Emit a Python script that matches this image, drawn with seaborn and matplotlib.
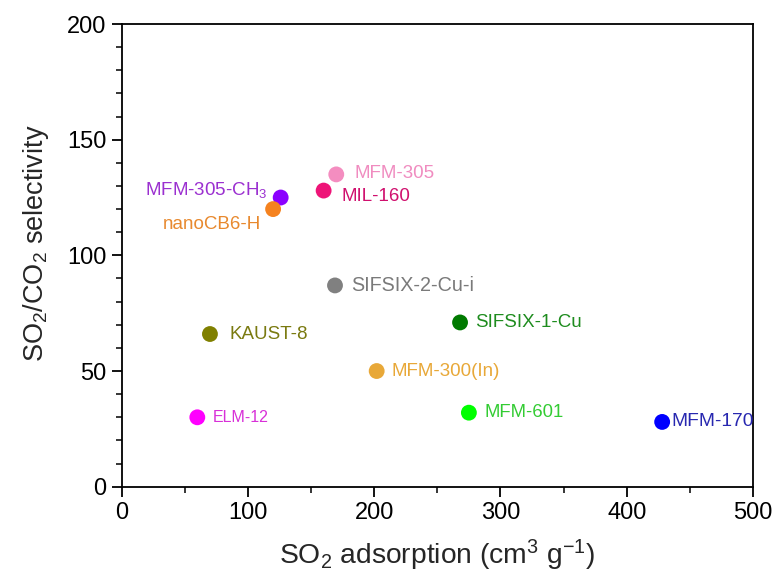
import matplotlib
matplotlib.use("Agg")
import matplotlib.pyplot as plt
import seaborn as sns
import pandas as pd
from matplotlib.ticker import MultipleLocator

names = ["MFM-305", "MIL-160", "MFM-305-CH$_3$", "nanoCB6-H", "SIFSIX-2-Cu-i",
         "SIFSIX-1-Cu", "KAUST-8", "MFM-300(In)", "ELM-12", "MFM-601", "MFM-170"]
so2_uptake = [170, 160, 126, 120, 169, 268, 70, 202, 60, 275, 428]
selectivity = [135, 128, 125, 120, 87, 71, 66, 50, 30, 32, 28]
dot_colors = ["#F48DC0", "#EE1478", "#8B00FF", "#F5821F", "#808080",
              "#007A00", "#808000", "#E8A838", "#FF00FF", "#00FF00", "#0000FF"]
label_colors = ["#F08CC0", "#D0106E", "#9B30D0", "#E8892E", "#7A7A7A",
                "#1E8C1E", "#7A7A10", "#E8A838", "#D830D8", "#33CC33", "#2828B0"]
label_sizes = [13.5, 13.5, 13.5, 13.5, 14.2, 13.5, 13.5, 13.5, 11.5, 13.3, 13.8]
# label offsets in pixels (dx, dy) and horizontal alignment
offsets = [(18, 1), (18, -6), (-13, 8), (-12, -15), (16, 0),
           (15, 0), (20, 0), (15, 0), (15, 0), (16, 0), (9, 0)]
aligns = ["left", "left", "right", "right", "left",
          "left", "left", "left", "left", "left", "left"]

df = pd.DataFrame({"name": names, "x": so2_uptake, "y": selectivity})

sns.set_theme(style="ticks")
plt.rcParams["font.family"] = ["Liberation Sans", "DejaVu Sans"]
plt.rcParams["mathtext.fontset"] = "custom"
plt.rcParams["mathtext.rm"] = "Liberation Sans"
plt.rcParams["mathtext.it"] = "Liberation Sans:italic"
plt.rcParams["mathtext.bf"] = "Liberation Sans:bold"

fig = plt.figure(figsize=(7.74, 5.73), dpi=100)
ax = fig.add_axes([0.157, 0.1506, 0.816, 0.8075])

sns.scatterplot(data=df, x="x", y="y", hue="name",
                palette=dict(zip(names, dot_colors)), s=130,
                edgecolor="none", legend=False, ax=ax, zorder=3)

for n, xv, yv, c, off, ha, fs in zip(names, so2_uptake, selectivity, label_colors,
                                     offsets, aligns, label_sizes):
    ax.annotate(n, (xv, yv), xytext=off, textcoords="offset pixels",
                ha=ha, va="center", color=c, fontsize=fs)

ax.set_xlim(0, 500)
ax.set_ylim(0, 200)
ax.xaxis.set_major_locator(MultipleLocator(100))
ax.xaxis.set_minor_locator(MultipleLocator(50))
ax.yaxis.set_major_locator(MultipleLocator(50))
ax.yaxis.set_minor_locator(MultipleLocator(10))
ax.tick_params(axis="both", which="major", direction="out", length=7, width=1.3,
               labelsize=17, colors="black", top=False, right=False, pad=4)
ax.tick_params(axis="both", which="minor", direction="out", length=4, width=1.3,
               top=False, right=False)
for sp in ax.spines.values():
    sp.set_visible(True)
    sp.set_linewidth(1.3)
    sp.set_color("black")
ax.grid(False)

ax.set_xlabel("SO$_2$ adsorption (cm$^3$ g$^{-1}$)", fontsize=20.3, labelpad=10)
ax.set_ylabel("SO$_2$/CO$_2$ selectivity", fontsize=19.5)
ax.yaxis.set_label_coords(-0.112, 0.527)

fig.savefig("out.png", dpi=100)
